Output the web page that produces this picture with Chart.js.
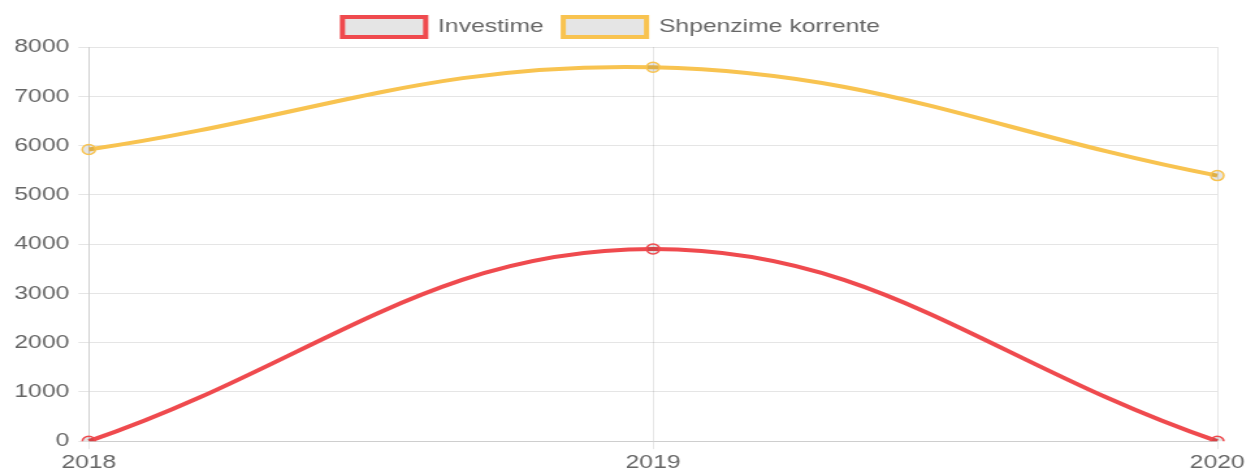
<!DOCTYPE html>
<html>
<head>
<meta charset="utf-8">
<script src="https://cdn.jsdelivr.net/npm/chart.js@4/dist/chart.umd.min.js"></script>
<style>
    html, body { margin: 0; padding: 0; background: #fff; overflow: hidden; }
    #wrap {
        width: 965px;
        height: 476px;
        transform-origin: 0 0;
        transform: scale(1.3005, 1);
    }
</style>
</head>
<body>
<div id="wrap"><canvas id="chart" width="965" height="476"></canvas></div>
<script>
// Chart data
const years = ['2018', '2019', '2020'];
const investime = [0, 3900, 0];
const shpenzime = [5920, 7590, 5390];
const yTicks = [0, 1000, 2000, 3000, 4000, 5000, 6000, 7000, 8000];

Chart.defaults.font.family = "'Liberation Sans', Arial, sans-serif";
Chart.defaults.font.size = 19;
Chart.defaults.color = '#666';

const ctx = document.getElementById('chart').getContext('2d');
new Chart(ctx, {
    type: 'line',
    data: {
        labels: years,
        datasets: [
            {
                label: 'Investime',
                data: investime,
                borderColor: '#ef4a4e',
                backgroundColor: 'rgba(0,0,0,0.1)',
                borderWidth: 4,
                pointRadius: 5,
                pointBorderWidth: 1.5,
                fill: false,
                tension: 0.4
            },
            {
                label: 'Shpenzime korrente',
                data: shpenzime,
                borderColor: '#f8c350',
                backgroundColor: 'rgba(0,0,0,0.1)',
                borderWidth: 4,
                pointRadius: 5,
                pointBorderWidth: 1.5,
                fill: false,
                tension: 0.4
            }
        ]
    },
    options: {
        responsive: false,
        animation: false,
        layout: { padding: { left: 4, right: 29, top: 2, bottom: 0 } },
        plugins: {
            legend: {
                position: 'top',
                labels: {
                    boxWidth: 64,
                    boxHeight: 20,
                    padding: 15
                }
            },
            tooltip: { enabled: false }
        },
        scales: {
            x: {
                grid: { color: 'rgba(0,0,0,0.1)' },
                ticks: { padding: 2, maxRotation: 0 }
            },
            y: {
                min: 0,
                max: 8000,
                afterBuildTicks: axis => { axis.ticks = yTicks.map(v => ({ value: v })); },
                grid: { color: 'rgba(0,0,0,0.1)' },
                ticks: { padding: 7, callback: v => String(v) }
            }
        }
    }
});
</script>
</body>
</html>
